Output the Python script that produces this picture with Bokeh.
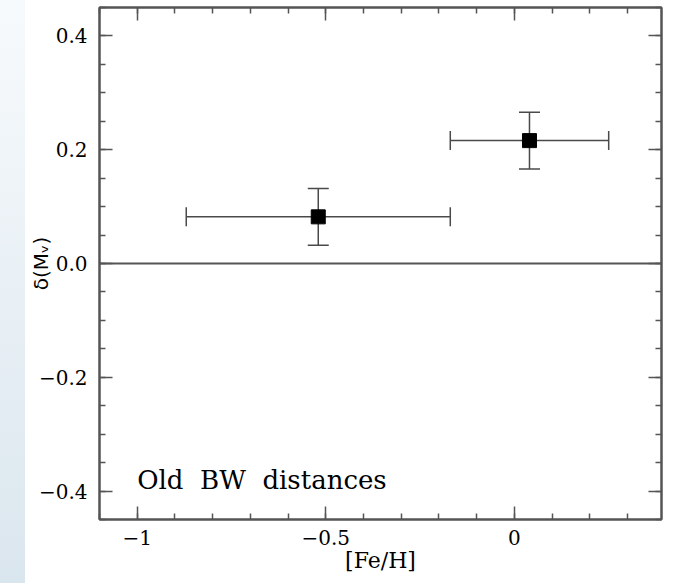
from bokeh.plotting import figure
from bokeh.models import (ColumnDataSource, Whisker, TeeHead, Span, Label, Range1d,
                          FixedTicker, LinearAxis, CustomJSTickFormatter, Div)
from bokeh.layouts import row
from bokeh.embed import file_html
from bokeh.resources import INLINE

# ---- data ----
feh = [-0.52, 0.04]
feh_err = [0.35, 0.21]
delta_mv = [0.082, 0.216]
delta_mv_err = [0.05, 0.05]

x_major = [-1.0, -0.5, 0.0]
x_major_labels = ["\u22121", "\u22120.5", "0"]
x_minor = [-1.1, -1.0, -0.9, -0.8, -0.7, -0.6, -0.5, -0.4, -0.3, -0.2, -0.1, 0.0, 0.1, 0.2, 0.3]
y_major = [-0.4, -0.2, 0.0, 0.2, 0.4]
y_major_labels = ["\u22120.4", "\u22120.2", "0.0", "0.2", "0.4"]
y_minor = [-0.45, -0.4, -0.35, -0.3, -0.25, -0.2, -0.15, -0.1, -0.05, 0.0,
           0.05, 0.1, 0.15, 0.2, 0.25, 0.3, 0.35, 0.4, 0.45]

annotation_text = "Old \u00a0BW \u00a0distances"
x_title = "[Fe/H]"
y_title = "\u03b4(M\u1d65)"

src = ColumnDataSource(dict(
    x=feh, y=delta_mv,
    xl=[a - e for a, e in zip(feh, feh_err)],
    xu=[a + e for a, e in zip(feh, feh_err)],
    yl=[a - e for a, e in zip(delta_mv, delta_mv_err)],
    yu=[a + e for a, e in zip(delta_mv, delta_mv_err)],
))

AX = "#555555"
SERIF = "DejaVu Serif"

p = figure(frame_width=562, frame_height=512,
           min_border_left=73, min_border_right=35, min_border_top=7, min_border_bottom=64,
           x_range=Range1d(-1.1, 0.39), y_range=Range1d(-0.45, 0.45),
           output_backend="svg", toolbar_location=None,
           background_fill_color="white", border_fill_color="white")
p.xgrid.grid_line_color = None
p.ygrid.grid_line_color = None
p.outline_line_color = AX
p.outline_line_width = 2

xt = FixedTicker(ticks=x_major, minor_ticks=x_minor)
yt = FixedTicker(ticks=y_major, minor_ticks=y_minor)

def style_axis(ax, ticker):
    ax.ticker = ticker
    ax.axis_line_color = AX
    ax.axis_line_width = 2
    ax.major_tick_line_color = AX
    ax.minor_tick_line_color = AX
    ax.major_tick_line_width = 1.5
    ax.minor_tick_line_width = 1.5
    ax.major_tick_in = 13
    ax.major_tick_out = 0
    ax.minor_tick_in = 6
    ax.minor_tick_out = 0
    ax.major_label_text_font = SERIF
    ax.major_label_text_font_size = "20px"
    ax.major_label_text_color = "black"

style_axis(p.xaxis[0], xt)
style_axis(p.yaxis[0], yt)
p.xaxis[0].major_label_overrides = {v: s for v, s in zip(x_major, x_major_labels)}
p.yaxis[0].major_label_overrides = {v: s for v, s in zip(y_major, y_major_labels)}
p.xaxis[0].major_label_standoff = 10
p.yaxis[0].major_label_standoff = 12

p.xaxis[0].axis_label = x_title
p.xaxis[0].axis_label_text_font = SERIF
p.xaxis[0].axis_label_text_font_size = "22px"
p.xaxis[0].axis_label_text_font_style = "normal"
p.xaxis[0].axis_label_text_color = "black"
p.xaxis[0].axis_label_standoff = 0

p.yaxis[0].axis_label = y_title
p.yaxis[0].axis_label_text_font = "DejaVu Sans"
p.yaxis[0].axis_label_text_font_size = "20px"
p.yaxis[0].axis_label_text_font_style = "normal"
p.yaxis[0].axis_label_text_color = "black"
p.yaxis[0].axis_label_standoff = -17

empty = CustomJSTickFormatter(code="return ''")
top = LinearAxis(formatter=empty)
right = LinearAxis(formatter=empty)
style_axis(top, xt)
style_axis(right, yt)
top.major_label_standoff = 0
right.major_label_standoff = 0
p.add_layout(top, "above")
p.add_layout(right, "right")

# zero line
p.add_layout(Span(location=0, dimension="width", line_color=AX, line_width=2))

# error bars
ERR = "#4a4a4a"
xw = Whisker(source=src, base="y", lower="xl", upper="xu", dimension="width",
             line_color=ERR, line_width=1.5, level="underlay",
             lower_head=TeeHead(size=19, line_color=ERR, line_width=1.5),
             upper_head=TeeHead(size=19, line_color=ERR, line_width=1.5))
yw = Whisker(source=src, base="x", lower="yl", upper="yu", dimension="height",
             line_color=ERR, line_width=1.5, level="underlay",
             lower_head=TeeHead(size=21, line_color=ERR, line_width=1.5),
             upper_head=TeeHead(size=21, line_color=ERR, line_width=1.5))
p.add_layout(xw)
p.add_layout(yw)

p.scatter("x", "y", source=src, marker="square", size=14, color="black")

p.add_layout(Label(x=-1.0, y=-0.38, text=annotation_text, text_font=SERIF,
                   text_font_size="26px", text_color="black", text_baseline="alphabetic"))

strip = Div(width=25, height=583, margin=0,
            styles={"background": "linear-gradient(to bottom, #f7fafc, #dae6ee)"})

layout = row(strip, p, spacing=0)
open("out.html", "w").write(file_html(layout, INLINE))
